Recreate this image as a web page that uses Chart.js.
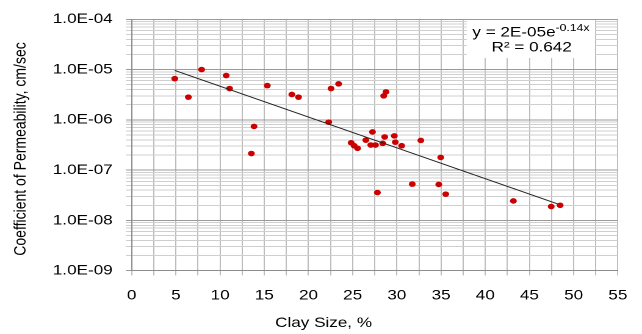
<!DOCTYPE html>
<html>
<head>
<meta charset="utf-8">
<script src="https://cdn.jsdelivr.net/npm/chart.js@4.4.1/dist/chart.umd.min.js"></script>
<style>
  html, body { margin: 0; padding: 0; background: #fff; overflow: hidden; }
  /* the source picture is stretched sideways, so draw narrow and scale x */
  #wrap { position: absolute; left: 0; top: 0; width: 526px; height: 334px;
          transform: scaleX(1.2205); transform-origin: 0 0; }
</style>
</head>
<body>
<div id="wrap"><canvas id="chart" aria-label="Permeability vs clay size" role="img"></canvas></div>
<script>
// clay size (%) and coefficient of permeability (cm/sec)
const clayX = [4.87, 6.41, 7.91, 10.69, 11.07, 13.84, 13.54, 15.34, 18.12, 18.87,
  22.29, 22.55, 23.41, 24.83, 25.17, 25.55, 26.49, 27.05, 27.24, 27.58,
  28.4, 28.62, 28.51, 28.77, 29.71, 29.82, 30.54, 32.71, 34.96, 27.8,
  31.74, 34.74, 35.53, 43.18, 47.46, 48.47];
const permY = [6.6e-6, 2.83e-6, 1.0e-5, 7.6e-6, 4.2e-6, 7.4e-7, 2.14e-7, 4.8e-6, 3.2e-6, 2.83e-6,
  9.0e-7, 4.2e-6, 5.2e-6, 3.5e-7, 3.06e-7, 2.72e-7, 3.95e-7, 3.16e-7, 5.75e-7, 3.16e-7,
  3.41e-7, 4.58e-7, 3.0e-6, 3.6e-6, 4.8e-7, 3.6e-7, 3.06e-7, 3.9e-7, 1.79e-7, 3.58e-8,
  5.28e-8, 5.2e-8, 3.33e-8, 2.44e-8, 1.89e-8, 2.0e-8];

// trendline end points as drawn
const trendX = [4.87, 48.2];
const trendY = [9.6e-6, 2.13e-8];

// axes
const xGrid = [0, 2.5, 5, 7.5, 10, 12.5, 15, 17.5, 20, 22.5, 25, 27.5, 30, 32.5, 35, 37.5, 40, 42.5, 45, 47.5, 50, 52.5, 55];
const yDecades = [1e-9, 1e-8, 1e-7, 1e-6, 1e-5, 1e-4];
const yDecadeLabels = ['1.0E-09', '1.0E-08', '1.0E-07', '1.0E-06', '1.0E-05', '1.0E-04'];
const yMinorSteps = [2, 3, 4, 5, 6, 7, 8, 9];

const FONT_FAMILY = '"Liberation Sans", Arial, sans-serif';
const tickFont = { family: FONT_FAMILY, size: 14 };

const yTicks = [];
yDecades.forEach((d, i) => {
  yTicks.push({ value: d, major: true, label: yDecadeLabels[i] });
  if (i < yDecades.length - 1) {
    yMinorSteps.forEach(m => yTicks.push({ value: m * d, major: false, label: '' }));
  }
});

const textPlugin = {
  id: 'textPlugin',
  afterDraw(chart) {
    const { ctx } = chart;
    ctx.save();
    ctx.fillStyle = '#000';
    ctx.font = `14px ${FONT_FAMILY}`;
    ctx.textAlign = 'center';
    ctx.textBaseline = 'middle';

    // axis titles
    ctx.fillText('Clay Size, %', 265.1, 323);
    ctx.save();
    ctx.translate(17.2, 149);
    ctx.rotate(-Math.PI / 2);
    ctx.fillText('Coefficient of Permeability, cm/sec', 0, 0);
    ctx.restore();

    // trendline equation box
    ctx.fillStyle = '#fff';
    ctx.fillRect(382.4, 20, 105.1, 38);
    ctx.fillStyle = '#000';
    ctx.textBaseline = 'alphabetic';
    ctx.textAlign = 'left';
    const main = 'y = 2E-05e';
    const sup = '-0.14x';
    ctx.font = `14px ${FONT_FAMILY}`;
    const wMain = ctx.measureText(main).width;
    ctx.font = `10px ${FONT_FAMILY}`;
    const wSup = ctx.measureText(sup).width;
    const x0 = 435 - (wMain + wSup) / 2;
    ctx.font = `14px ${FONT_FAMILY}`;
    ctx.fillText(main, x0, 36.7);
    ctx.font = `10px ${FONT_FAMILY}`;
    ctx.fillText(sup, x0 + wMain, 31.2);
    ctx.font = `14px ${FONT_FAMILY}`;
    ctx.textAlign = 'center';
    ctx.fillText('R² = 0.642', 435.6, 51.7);
    ctx.restore();
  },
};

new Chart(document.getElementById('chart'), {
  type: 'scatter',
  data: {
    datasets: [
      {
        type: 'line',
        data: trendX.map((x, i) => ({ x, y: trendY[i] })),
        borderColor: '#222',
        borderWidth: 1,
        pointRadius: 0,
        fill: false,
        order: 0,
      },
      {
        data: clayX.map((x, i) => ({ x, y: permY[i] })),
        backgroundColor: '#cc0000',
        borderWidth: 0,
        pointRadius: 2.8,
        order: 1,
      },
    ],
  },
  options: {
    responsive: true,
    maintainAspectRatio: false,
    animation: false,
    devicePixelRatio: 2,
    layout: { padding: { top: 13.3, right: 17.8, left: 0, bottom: 0 } },
    plugins: { legend: { display: false }, tooltip: { enabled: false } },
    scales: {
      x: {
        type: 'linear',
        min: 0,
        max: 55,
        afterBuildTicks: (s) => { s.ticks = xGrid.map(v => ({ value: v })); },
        afterFit: (s) => { s.height = 63.3; },
        ticks: {
          autoSkip: false,
          maxRotation: 0,
          padding: 12,
          font: tickFont,
          color: '#000',
          callback: v => (v % 5 === 0 ? String(v) : ''),
        },
        grid: { color: '#bdbdbd', tickLength: 4.7 },
        border: { color: '#8c8c8c' },
      },
      y: {
        type: 'logarithmic',
        min: 1e-9,
        max: 1e-4,
        afterBuildTicks: (s) => { s.ticks = yTicks.map(t => ({ value: t.value, major: t.major })); },
        afterFit: (s) => { s.width = 107.9; },
        ticks: {
          autoSkip: false,
          padding: 10.9,
          font: tickFont,
          color: '#000',
          callback: (v, i) => yTicks[i].label,
        },
        grid: {
          color: c => (c.tick && c.tick.major ? '#9a9a9a' : '#cfcfcf'),
          tickLength: 4.7,
        },
        border: { color: '#8c8c8c' },
      },
    },
  },
  plugins: [textPlugin],
});
</script>
</body>
</html>
